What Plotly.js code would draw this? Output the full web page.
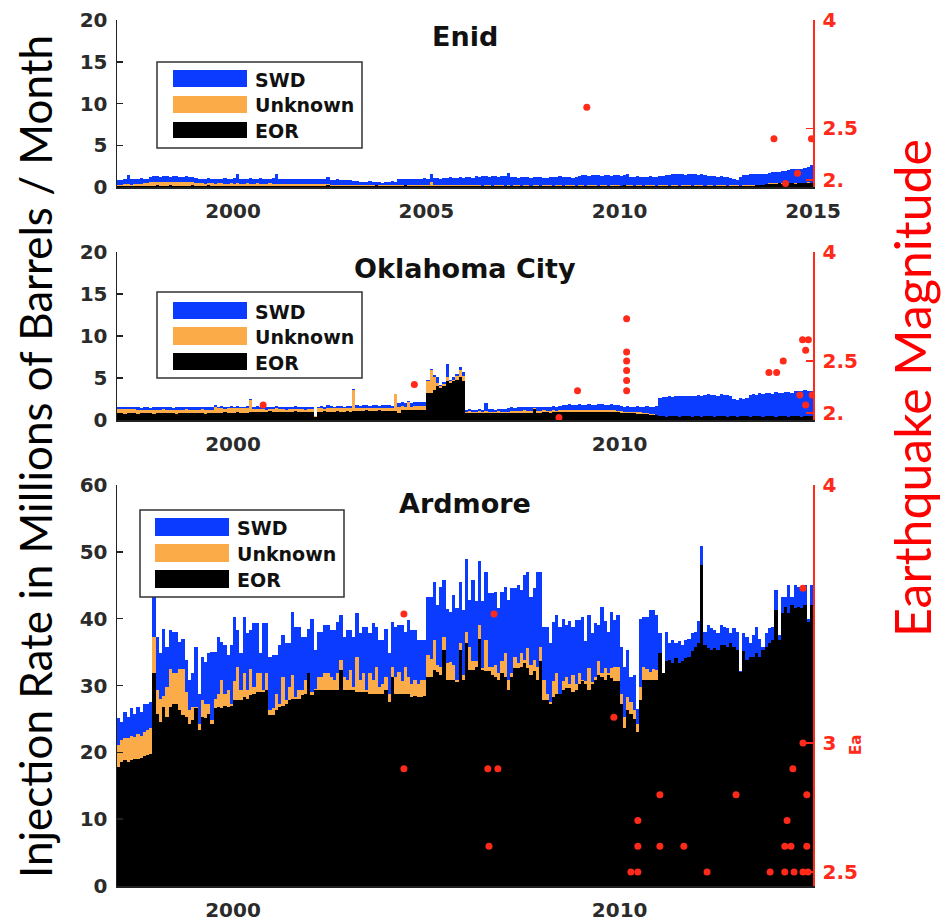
<!DOCTYPE html>
<html><head><meta charset="utf-8">
<script src="https://cdn.plot.ly/plotly-3.0.1.min.js"></script>
<style>html,body{margin:0;padding:0;background:#fff;} #chart{width:951px;height:922px;}</style>
</head><body><div id="chart"></div>
<script>
// ---------------- DATA (monthly, Jan 1997 - Dec 2014), values = top of each stacked layer ----------------
const startYear = 1997;
const nMonths = 216;
const seriesNames = ['SWD', 'Unknown', 'EOR'];
const panelTitles = ['Enid', 'Oklahoma City', 'Ardmore'];
const enidTicks = [2000, 2005, 2010, 2015];
const otherTicks = [2000, 2010];

// Enid (millions of barrels / month)
const enidSWD = [0.8,0.8,0.9,1.4,1.0,1.0,1.0,1.1,1.0,1.0,
1.2,1.3,1.3,1.2,1.3,1.3,1.2,1.3,1.3,1.2,1.2,1.3,1.2,1.2,1.1,
1.0,1.0,1.0,1.1,1.0,1.0,1.0,1.0,1.1,1.0,1.0,1.1,
1.5,
1.0,1.0,1.0,1.1,1.0,1.0,1.1,1.0,1.0,1.0,1.1,
1.6,
0.9,0.9,1.0,0.9,0.9,0.9,0.9,1.0,0.9,0.9,0.9,0.9,1.0,0.9,0.9,
1.2,
0.8,0.8,0.9,0.8,0.8,0.8,0.8,0.7,0.7,
0.6,0.6,0.6,0.7,0.6,0.6,0.6,0.5,0.6,0.6,0.7,0.6,
0.9,1.0,1.0,1.0,0.9,1.0,1.0,1.0,1.1,1.0,
1.5,
1.1,1.1,1.0,1.1,1.1,1.2,1.1,1.1,1.2,1.1,1.2,1.2,1.1,
1.3,1.2,1.3,1.3,1.2,1.3,1.3,1.2,1.3,1.3,
1.7,
1.2,1.2,1.1,1.2,1.2,1.2,1.1,1.2,1.2,1.2,1.1,1.1,1.2,1.2,1.2,1.3,1.2,1.2,1.2,1.1,1.2,1.3,
1.4,1.4,1.3,1.4,1.4,1.4,1.3,1.4,1.4,1.3,1.4,1.4,1.3,1.4,
1.6,
1.2,1.2,1.3,1.2,1.2,1.2,1.3,1.2,1.2,1.3,1.3,1.4,1.4,1.5,
1.5,1.5,1.5,1.4,1.5,1.5,1.5,1.4,1.5,1.4,
1.3,1.3,1.3,1.2,1.3,1.2,1.2,1.1,1.0,
0.8,
1.2,1.4,1.4,1.5,1.5,1.5,1.6,1.6,1.6,
1.7,1.8,1.8,1.8,1.9,1.9,2.0,
2.1,2.1,2.2,2.2,2.3,2.4,2.6];
const enidUnknown = [0.3,0.3,0.35,0.35,0.3,0.35,0.4,0.4,0.45,0.45,
0.6,0.6,0.65,0.6,0.65,0.6,0.6,0.65,0.6,0.6,0.55,0.6,0.55,0.55,0.5,
0.45,0.45,0.4,0.45,0.45,0.4,0.45,0.45,0.4,0.4,
0.45,0.4,0.45,0.4,0.4,0.45,0.4,0.4,0.45,0.4,
0.4,0.4,0.45,0.4,0.4,0.35,0.4,0.4,0.35,0.4,
0.4,0.35,0.35,0.4,0.35,0.35,0.4,0.35,0.35,0.35,
0.4,
0.3,0.3,0.25,0.3,0.25,0.25,0.3,0.25,0.25,0.2,
0.25,0.2,0.2,0.25,0.2,0.2,0.2,0.25,0.2,0.2,
0.25,0.25,0.2,0.25,0.25,0.2,0.25,0.25,0.2,0.25,
0.25,0.6,
0.25,0.25,0.2,0.25,0.25,0.2,0.25,0.25,0.2,0.25,0.2,0.2,0.25,
0.2,0.2,0.15,0.2,0.2,0.15,0.2,0.2,0.2,0.15,
0.2,0.15,0.2,0.2,0.15,0.2,0.2,0.15,0.2,0.2,
0.15,0.2,0.2,0.2,0.15,0.2,0.2,0.15,0.2,0.2,
0.2,0.15,0.2,0.2,0.15,0.2,0.2,0.2,0.15,0.2,
0.2,0.15,0.2,0.2,0.2,0.15,0.25,0.2,0.2,0.15,
0.2,0.2,0.15,0.2,0.2,0.2,0.15,0.2,0.2,0.2,
0.15,0.2,0.2,0.15,0.2,0.2,0.2,0.15,0.2,0.2,
0.2,0.15,0.2,0.2,0.15,0.2,0.2,0.2,0.15,0.2,
0.2,0.2,0.15,0.2,0.2,0.2,0.2,0.25,0.25,0.3,
0.4,0.45,0.45,0.45,0.5,0.45,0.45,0.5,0.5,0.45,0.5,0.5,0.5,0.55,0.5];
const enidEOR = [0.1,0.1,0.15,0.15,0.1,0.15,0.15,0.15,0.1,0.15,
0.15,0.15,0.2,0.15,0.15,0.15,0.2,0.15,0.15,0.15,
0.15,0.15,0.15,0.2,0.15,0.15,0.15,0.15,0.3,0.15,
0.15,0.15,0.1,0.15,0.15,0.15,0.15,0.15,0.15,0.1,
0.15,0.15,0.15,0.15,0.15,0.1,0.15,0.15,0.15,0.15,
0.1,0.15,0.15,0.15,0.15,0.15,0.1,0.15,0.15,0.15,
0.15,0.15,0.1,0.15,0.15,0.3,0.15,0.15,0.1,0.15,
0.15,0.15,0.15,0.1,0.15,0.15,0.15,0.15,0.15,0.15,
0.25,0.15,0.15,0.1,0.15,0.15,0.15,0.15,0.15,0.3,
0.15,0.15,0.1,0.15,0.15,0.15,0.15,0.15,0.15,0.15,
0.1,0.15,0.15,0.15,0.15,0.1,0.15,0.15,0.15,0.15,0.1,
0.1,0.1,0.1,0.15,0.1,0.1,0.1,0.1,0.1,0.1,
0.1,0.1,0.1,0.1,0.15,0.1,0.1,0.1,0.1,0.1,
0.1,0.1,0.1,0.1,0.1,0.1,0.1,0.15,0.1,0.1,
0.1,0.1,0.1,0.1,0.1,0.1,0.1,0.1,0.1,0.1,
0.1,0.1,0.1,0.1,0.1,0.1,0.2,0.1,0.1,0.1,
0.1,0.1,0.1,0.1,0.1,0.1,0.1,0.1,0.1,0.1,
0.1,0.1,0.1,0.1,0.1,0.1,0.1,0.1,0.1,0.1,
0.1,0.1,0.1,0.1,0.1,0.1,0.1,0.1,0.1,0.1,
0.1,0.1,0.1,0.1,0.1,0.15,0.15,0.2,0.25,0.3,
0.35,0.4,0.4,0.4,0.45,0.4,0.4,0.45,0.45,0.4,0.45,0.45,0.45,0.5,0.45];
const enidQuakeYear = [2009.15, 2013.99, 2014.96, 2014.60, 2014.29];
const enidQuakeMag  = [2.74, 2.39, 2.39, 2.06, 1.97];

// Oklahoma City
const okcSWD = [1.6,1.6,1.5,1.6,1.6,1.5,
1.5,1.4,1.5,1.5,1.4,1.5,1.5,1.5,1.6,1.5,1.5,1.4,1.5,1.5,1.5,1.6,1.5,1.5,1.5,1.5,1.6,1.5,1.5,1.5,
1.8,
1.6,1.7,1.6,1.6,1.7,1.6,1.7,1.6,1.6,1.7,
2.45,
1.6,1.7,1.6,1.6,1.5,1.6,1.6,1.7,1.6,1.6,1.5,1.6,1.6,1.7,1.6,1.6,1.5,1.6,1.6,
0.5,
1.6,1.7,1.6,1.8,1.7,1.6,1.7,1.7,1.6,1.7,1.7,
3.65,
1.8,1.7,1.8,1.8,1.7,1.8,1.8,1.7,1.8,1.8,1.8,1.7,
3.1,
2.0,2.1,2.0,2.3,2.0,2.1,2.2,2.1,2.2,
4.75,6.1,5.3,5.1,4.2,4.5,6.7,4.8,5.1,5.5,6.3,5.7,
1.2,1.3,1.2,1.2,1.3,1.2,
2.0,
1.3,1.3,1.2,1.3,1.3,1.3,1.4,
1.5,1.4,1.5,1.5,1.6,1.5,1.5,1.6,1.5,1.6,1.6,1.5,1.6,1.7,1.6,1.7,1.8,
1.8,1.9,1.8,1.8,1.9,1.8,1.8,1.9,1.8,1.8,1.9,1.9,1.8,1.8,1.9,1.8,1.8,1.7,
1.6,1.7,1.6,1.6,1.7,1.6,1.6,1.7,1.6,1.6,1.7,
2.6,2.7,2.7,2.8,2.7,2.8,2.9,2.8,2.8,2.9,2.8,2.9,
3.0,2.9,3.0,3.1,3.0,3.0,2.9,3.1,3.0,3.0,2.9,
2.5,2.4,2.6,2.5,2.6,
3.0,3.1,3.0,3.2,3.1,3.2,3.2,3.1,3.3,3.2,3.2,3.3,3.3,3.2,3.4,
3.5,3.4,3.6,3.5,3.4];
const okcUnknown = [1.35,1.35,1.3,1.35,1.3,1.3,
1.2,1.2,1.25,1.2,1.2,1.2,1.25,1.2,1.3,1.2,1.2,1.2,1.25,1.2,1.2,1.3,1.2,1.2,1.25,1.2,1.3,1.2,1.2,1.25,
1.5,
1.4,1.4,1.35,1.4,1.4,1.4,1.45,1.4,1.4,1.4,
2.4,
1.3,1.35,1.3,1.3,1.25,1.3,1.3,1.4,1.3,1.3,1.25,1.3,1.3,1.35,1.3,1.3,1.25,1.3,1.3,
0.5,
1.4,1.4,1.35,1.45,1.4,1.4,1.4,1.45,1.4,1.4,1.4,
3.6,
1.4,1.4,1.45,1.4,1.4,1.45,1.4,1.4,1.45,1.4,1.4,1.4,
3.05,
1.6,1.65,1.6,2.2,1.6,1.65,1.7,1.65,1.7,
4.6,5.9,5.1,4.4,4.1,4.3,5.1,4.6,4.8,5.2,5.9,5.2,
1.0,1.05,1.0,1.0,1.05,1.0,
1.1,
1.0,1.0,1.0,1.05,1.0,0.9,1.0,
1.1,1.1,1.1,1.1,1.15,1.1,1.1,1.4,1.1,1.1,1.15,1.1,1.1,1.15,1.1,1.15,1.2,
1.2,1.2,1.2,1.25,1.2,1.2,1.2,1.25,1.2,1.2,1.2,1.2,1.15,1.2,1.2,1.15,1.1,1.1,
1.0,1.0,0.95,0.95,0.9,0.9,0.85,0.8,0.75,0.7,0.65,
0.45,0.45,0.4,0.45,0.45,0.45,0.4,0.45,0.45,0.45,0.4,0.45,
0.45,0.4,0.45,0.45,0.45,0.4,0.45,0.45,0.45,0.4,0.45,0.45,
0.4,0.45,0.45,0.45,0.4,0.45,0.45,0.45,0.4,0.45,0.45,0.45,
0.4,0.45,0.45,0.45,0.4,0.45,0.45,0.45,0.4,0.45,0.45,0.45];
const okcEOR = [0.8,0.8,0.75,0.8,0.8,0.8,0.75,0.8,0.8,0.8,0.8,0.75,0.8,0.8,0.85,0.8,0.8,0.8,0.75,0.8,0.8,0.8,0.85,0.8,0.8,0.8,0.8,0.75,0.8,0.8,
0.85,0.85,0.85,0.9,0.85,0.85,0.85,0.9,0.85,0.85,0.85,
0.9,
1.0,1.0,0.95,1.0,1.0,1.05,1.0,1.0,1.0,0.95,1.0,1.0,1.0,1.05,1.0,1.0,0.95,1.0,1.0,
0.3,
1.0,1.0,1.05,1.0,1.0,1.0,1.05,1.0,1.0,1.05,1.0,
1.05,
1.1,1.1,1.1,1.15,1.1,1.1,1.1,1.15,1.1,1.1,1.1,1.1,
1.1,
0.8,1.2,1.2,1.25,1.2,1.2,1.25,1.2,1.2,
3.2,3.2,3.6,4.0,3.8,4.0,4.6,4.4,4.6,4.8,5.1,4.6,
0.8,0.8,0.8,0.8,0.8,0.8,0.85,0.8,0.8,0.8,
0.8,0.8,0.8,0.85,0.85,0.85,0.85,0.85,0.85,0.85,
0.85,1.3,0.85,0.85,0.9,0.9,0.85,0.9,0.9,0.9,
0.9,0.9,0.9,0.9,0.9,0.9,0.9,0.9,0.9,0.9,
0.9,0.9,0.9,0.9,0.9,0.9,0.9,0.9,0.85,0.85,
0.8,0.8,0.8,0.75,0.75,0.7,0.7,0.65,0.6,0.6,
0.45,0.45,0.4,0.45,0.45,0.45,0.4,0.45,0.45,0.45,0.4,0.45,
0.45,0.4,0.45,0.45,0.45,0.4,0.45,0.45,0.45,0.4,0.45,0.45,
0.4,0.45,0.45,0.45,0.4,0.45,0.45,0.45,0.4,0.45,0.45,0.45,
0.4,0.45,0.45,0.45,0.4,0.45,0.45,0.45,0.4,0.45,0.45,0.45];
const okcQuakeYear = [2010.18,2010.18,2010.18,2010.18,2010.18,2010.18,2008.91,2008.43,2000.78,2004.69,2013.86,2014.06,2014.23,2014.73,2014.88,2014.81,2014.66,2014.98,2014.81];
const okcQuakeMag  = [3.0,2.6,2.5,2.4,2.3,2.2,2.2,1.96,2.07,2.26,2.38,2.38,2.5,2.74,2.74,2.62,2.16,2.16,2.07];

// Ardmore
const ardSWD = [25.1,24.5,26.1,25.3,26.6,25.8,26.8,26.1,27.3,27.3,27.6,
43.5,
37.3,34.8,38.5,35.8,38.3,38,38,36.5,37,
33.8,30.8,31.8,35.8,28.8,34.3,33.5,34.8,35,35,
37.3,36.5,36,34.5,36,40.3,38.3,34.8,40.3,37.8,
38.3,39.3,39.3,34.8,39.3,39.3,34.3,34.5,34.5,36,
37.5,36.3,36.3,41,38.8,38.8,37.3,37.3,38.5,40,
35.3,38,38,39,39,38.3,38.3,39.5,40.5,37.3,
38.3,38.3,37.3,40.8,37.8,38.8,38.8,37.8,39.3,38.8,
36.8,36.8,38.5,34.8,39.5,38.8,39,39,38,39.8,
38.3,38.3,36.8,36.8,36.8,
43.3,43.3,45.5,42,44.8,45.8,41.5,41,43.6,41.6,45.5,41.3,49,
42.8,45.8,42.6,48.6,42.6,47,43.8,43.8,44,41.6,44,44.8,
42.8,44.6,44.6,45,44.3,46.6,47,43.3,44.6,47,47,
38.8,38.8,36.3,39.5,40.6,38.8,40,39,39.6,38.8,39.8,39.8,40.3,36.6,
40.6,37.8,39.3,39,41.8,39.6,38,41,39.8,40.6,
35.8,32.8,35.3,31.3,31.5,26.5,
40,40.3,40.3,41.3,41.3,40.6,37.8,
31.8,38,36.3,36.8,36.3,36.6,36,36.8,37,37.8,38,39.6,50.8,
38,39,38.6,38.3,37.8,39,38.8,38.6,37.8,38.6,38,32.1,
37.8,37.3,36.3,37.6,38.8,37,35.8,37.8,38.6,38.8,
44.3,37.6,43.3,43.3,45,43.3,45,44.8,44.6,45,40,45];
const ardUnknown = [21.1,21.8,22.2,22.1,22.5,22.3,22.8,22.4,23,23.3,23.6,
37.3,
29.3,28,28.5,29.8,32.5,31.8,31.8,32.5,32.5,
29,26.3,26.8,26.8,24.3,27.8,27.3,27.3,24.8,28,
28.8,30.8,28.8,29.3,27.3,30.6,32.8,29.3,31.8,29.3,
32.5,29.8,31.8,31.8,29.3,31.8,26.3,26.6,28.8,27.3,
31.3,27.8,29.8,31.6,28.3,29.3,29.3,30.8,31.8,29,
29.5,31.3,31.3,31.8,31.8,31.3,30.8,31.8,33.8,31.3,
30.8,32.3,29.8,34.3,30.8,31.8,29.3,31.8,30.8,32.8,
29.8,30.3,31.3,28.8,32.8,31.3,32,30.6,32.8,31.3,
30.3,30.8,30.3,30.8,30.8,
34.5,34,36.8,33,32.8,37.3,33.4,33.5,33,30.8,36.4,31.5,38,
35.8,33.6,33.6,39,32.6,36.8,32.8,32.8,33,31.8,33.6,34.8,
30.8,31.8,34.3,33.3,34.8,33.8,35.6,33,33.8,32.8,35.8,
30.8,28.8,27.5,30.6,31.8,28.8,30.6,31.3,30.3,31.6,30.3,31.8,30.8,30.6,
32.6,30.5,31.3,33.6,31.8,32.6,31.8,32.6,32.8,32.8,
28.8,25.3,28.3,27.6,26.3,24.3,
29.8,32.8,32.5,32,32.5,32.3,
34.8,31.8,33.6,33.8,33.3,34.1,33.3,33.6,34.1,34.3,35.1,35.8,36.3,
48,
36.1,35.6,35.3,35.6,35.3,36.1,36.1,35.8,36.3,35.8,35.3,
32,
35.1,33.8,34.3,34.3,34.8,34.3,35.3,35.8,36.3,36.8,
41.3,36.8,40.8,41.8,40.8,42,41.6,41.8,41.6,42,39.5,42];
const ardEOR = [17.8,18.6,18.8,18.5,18.8,19,19,19.2,19.4,19.6,19.7,
31.8,
25.8,24.6,26.8,25.3,26.8,27.3,27.3,26.3,25.6,
25.3,24.3,24.8,26.6,23.3,25.3,25.1,25.8,24.3,26.6,
26.8,26.6,27,26.8,27,27.8,27.8,27.8,28.3,28,
28.6,28.8,29,29,29,29.3,25.6,25.6,26.3,26.8,
27,27.3,27.8,28,28,28,28.6,28.8,31.8,28.6,
29.3,29.3,29.3,29.3,29.3,29.3,29.3,29.3,32.3,29.3,
29.3,29.3,29.3,29,29,29,29,28.8,28.8,28.8,
28.8,28.8,29.3,27.5,31.3,28.8,28.8,28.8,28.8,28.8,
28.3,28.5,28.3,28.3,28.5,
31.3,31.3,32.3,32,31.5,35.3,30.8,30.8,30.8,30.5,35.3,30.8,36.3,
32.3,32.3,32.8,37,32.3,32.1,32.1,31.6,31.3,30.8,31.8,31.3,
29.3,31.3,32.6,32.6,32.8,33.3,32.6,31.6,32.1,30.8,33.6,
27.8,27.8,27.3,28.3,28.8,28.8,29.3,29.6,29.6,29.1,29.3,30.3,30.6,30.3,
29.3,30.3,30.8,31.6,31.3,30.8,31.6,31.1,30.6,30.6,
27.3,23.6,26.3,25.8,25,23,
27.8,30.8,30.8,30.8,30.8,30.8,
34.8,31.8,33.6,33.8,33.3,34.1,33.3,33.6,34.1,34.3,35.1,35.8,36.3,
48,
36.1,35.6,35.3,35.6,35.3,36.1,36.1,35.8,36.3,35.8,35.3,
32,
35.1,33.8,34.3,34.3,34.8,34.3,35.3,35.8,36.3,36.8,
41.3,36.8,40.8,41.8,40.8,42,41.6,41.8,41.6,42,39.5,42];
const ardQuakeYear = [2004.42,2004.42,2006.75,2006.59,2006.85,2006.62,2009.85,2014.74,2014.74,2014.48,2011.04,2013.01,2014.84,2010.47,2014.33,2010.47,2011.04,2011.66,2014.27,2014.43,2014.84,2010.29,2010.47,2012.26,2013.89,2014.27,2014.51,2014.74,2014.87];
const ardQuakeMag  = [3.50,2.90,3.50,2.90,2.90,2.60,3.10,3.60,3.00,2.90,2.80,2.80,2.80,2.70,2.70,2.60,2.60,2.60,2.60,2.60,2.60,2.50,2.50,2.50,2.50,2.50,2.50,2.50,2.50];

// ---------------- LAYOUT HELPERS ----------------
const W = 951, H = 922;
const px = x => x / W;
const py = y => 1 - y / H;
const monthX = [];
for (let i = 0; i < nMonths; i++) monthX.push(startYear + (i + 0.5) / 12);

const BLUE = '#0b3bff', ORANGE = '#fbab48', BLACK = '#000000', RED = '#ff2a1a', INK = '#2b2b2b';
const tickFont = {family: 'DejaVu Sans', size: 20, color: INK, weight: 700};
const redFont = {family: 'DejaVu Sans', size: 20, color: RED, weight: 700};

function bars(vals, color, xa, ya, name) {
  return {type: 'bar', name: name, x: monthX.slice(0, vals.length), y: vals, width: 1/12,
    marker: {color: color, line: {width: 0}}, xaxis: xa, yaxis: ya, showlegend: false, hoverinfo: 'skip'};
}
function quakes(xs, ys, xa, ya) {
  return {type: 'scatter', mode: 'markers', x: xs, y: ys, xaxis: xa, yaxis: ya,
    marker: {color: RED, size: 7, symbol: 'circle', line: {width: 0}}, showlegend: false, hoverinfo: 'skip'};
}

const data = [
  bars(enidSWD, BLUE, 'x', 'y', 'SWD'), bars(enidUnknown, ORANGE, 'x', 'y', 'Unknown'), bars(enidEOR, BLACK, 'x', 'y', 'EOR'),
  quakes(enidQuakeYear, enidQuakeMag, 'x', 'y2'),
  bars(okcSWD, BLUE, 'x2', 'y3', 'SWD'), bars(okcUnknown, ORANGE, 'x2', 'y3', 'Unknown'), bars(okcEOR, BLACK, 'x2', 'y3', 'EOR'),
  quakes(okcQuakeYear, okcQuakeMag, 'x2', 'y4'),
  bars(ardSWD, BLUE, 'x3', 'y5', 'SWD'), bars(ardUnknown, ORANGE, 'x3', 'y5', 'Unknown'), bars(ardEOR, BLACK, 'x3', 'y5', 'EOR'),
  quakes(ardQuakeYear, ardQuakeMag, 'x3', 'y6')
];

const xDom = [px(117), px(813)];
const panels = [
  {top: 20, bottom: 187}, {top: 252, bottom: 420}, {top: 485, bottom: 886}
];
function xAxis(anchor, ticks) {
  return {domain: xDom, anchor: anchor, range: [1997, 2015], tickvals: ticks, ticktext: ticks.map(String),
    showline: true, linecolor: '#222', linewidth: 1.5, ticks: '', showgrid: false, zeroline: false,
    tickfont: tickFont, ticklabelstandoff: 5, fixedrange: true};
}
function yLeft(anchor, p, range, dtick) {
  return {domain: [py(p.bottom), py(p.top)], anchor: anchor, range: range, dtick: dtick, tick0: 0,
    showline: true, linecolor: '#222', linewidth: 1.5, ticks: 'inside', ticklen: 6, tickwidth: 1.5, tickcolor: '#222',
    showgrid: false, zeroline: false, tickfont: tickFont, ticklabelstandoff: 4};
}
function yRight(overlay, anchor, type, range, vals, texts) {
  return {overlaying: overlay, anchor: anchor, side: 'right', type: type, range: range,
    tickvals: vals, ticktext: texts, showline: true, linecolor: RED, linewidth: 1.5,
    ticks: 'inside', ticklen: 7, tickwidth: 1.5, tickcolor: RED, showgrid: false, zeroline: false,
    tickfont: redFont, ticklabelstandoff: 4};
}

const logRange = [Math.log10(1.94), Math.log10(4)];

// Legends drawn as boxes + swatches
const shapes = [];
const annotations = [];
function legend(bx0, bx1, by0, by1, sx0, sx1, rows, tx) {
  shapes.push({type: 'rect', xref: 'paper', yref: 'paper', x0: px(bx0), x1: px(bx1), y0: py(by1), y1: py(by0),
    line: {color: '#333', width: 1.5}, fillcolor: '#fff', layer: 'above'});
  const cols = [BLUE, ORANGE, BLACK];
  rows.forEach((r, k) => {
    shapes.push({type: 'rect', xref: 'paper', yref: 'paper', x0: px(sx0), x1: px(sx1), y0: py(r[1]), y1: py(r[0]),
      line: {width: 0}, fillcolor: cols[k], layer: 'above'});
    annotations.push({xref: 'paper', yref: 'paper', x: px(tx), y: py((r[0] + r[1]) / 2 + 1), xanchor: 'left', yanchor: 'middle',
      text: seriesNames[k], showarrow: false, font: {family: 'DejaVu Sans', size: 19, color: '#111', weight: 700}});
  });
}
legend(157, 362, 62, 148, 173, 247, [[70, 87], [96, 113], [122, 138]], 253);
legend(157, 362, 292, 378, 173, 247, [[302, 319], [327, 345], [353, 370]], 253);
legend(140, 344, 510, 597, 155, 229, [[518, 536], [544, 562], [570, 588]], 235);

const titleY = [37, 269, 504];
panelTitles.forEach((t, k) => annotations.push({xref: 'paper', yref: 'paper', x: px(465), y: py(titleY[k]),
  xanchor: 'center', yanchor: 'middle', text: t, showarrow: false,
  font: {family: 'DejaVu Sans', size: 27, color: '#111', weight: 700}}));

annotations.push({xref: 'paper', yref: 'paper', x: px(35), y: py(457), xanchor: 'center', yanchor: 'middle',
  text: 'Injection Rate in Millions of Barrels / Month', textangle: -90, showarrow: false,
  font: {family: 'Lato', size: 44, color: '#000'}});
annotations.push({xref: 'paper', yref: 'paper', x: px(912), y: py(388), xanchor: 'center', yanchor: 'middle',
  text: 'Earthquake Magnitude', textangle: -90, showarrow: false,
  font: {family: 'Lato', size: 50, color: '#ff0000'}});
annotations.push({xref: 'paper', yref: 'paper', x: px(856), y: py(745), xanchor: 'center', yanchor: 'middle',
  text: 'Ea', textangle: -90, showarrow: false,
  font: {family: 'DejaVu Sans', size: 15, color: RED, weight: 700}});

const layout = {
  width: W, height: H, margin: {l: 0, r: 0, t: 0, b: 0}, paper_bgcolor: '#fff', plot_bgcolor: 'rgba(0,0,0,0)',
  barmode: 'overlay', bargap: 0, showlegend: false,
  xaxis: xAxis('y', enidTicks),
  yaxis: yLeft('x', panels[0], [0, 20], 5),
  yaxis2: yRight('y', 'x', 'log', logRange, [2, 2.5, 4], ['2.', '2.5', '4']),
  xaxis2: xAxis('y3', otherTicks),
  yaxis3: yLeft('x2', panels[1], [0, 20], 5),
  yaxis4: yRight('y3', 'x2', 'log', logRange, [2, 2.5, 4], ['2.', '2.5', '4']),
  xaxis3: xAxis('y5', otherTicks),
  yaxis5: yLeft('x3', panels[2], [0, 60], 10),
  yaxis6: yRight('y5', 'x3', 'linear', [2.446, 4], [2.5, 3, 4], ['2.5', '3', '4']),
  shapes: shapes, annotations: annotations
};
Plotly.newPlot('chart', data, layout, {staticPlot: true, displayModeBar: false});
</script></body></html>
